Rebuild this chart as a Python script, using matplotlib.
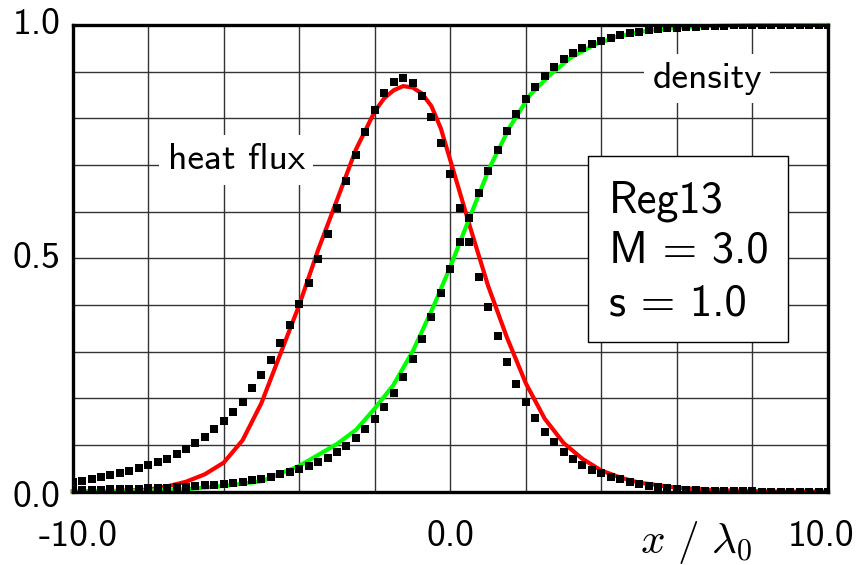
import numpy as np
import matplotlib
matplotlib.use("Agg")
import matplotlib.pyplot as plt
from matplotlib.patches import Rectangle

plt.rcParams['axes.unicode_minus'] = False
plt.rcParams['mathtext.fontset'] = 'cm'

# ---- data ----
x_dots = np.arange(-10.0, 10.001, 0.25)

heat_flux_dots = [
    0.021, 0.023, 0.027, 0.032, 0.035, 0.039, 0.045, 0.050, 0.057, 0.064,
    0.070, 0.080, 0.091, 0.103, 0.117, 0.133, 0.151, 0.171, 0.193, 0.221,
    0.249, 0.282, 0.318, 0.357, 0.401, 0.446, 0.498, 0.552, 0.608, 0.666,
    0.721, 0.771, 0.818, 0.855, 0.877, 0.886, 0.875, 0.848, 0.803, 0.746,
    0.680, 0.607, 0.534, 0.460, 0.395, 0.333, 0.278, 0.230, 0.191, 0.157,
    0.128, 0.107, 0.085, 0.069, 0.057, 0.046, 0.039, 0.032, 0.026, 0.021,
    0.016, 0.012, 0.009, 0.007, 0.005, 0.004, 0.003, 0.002, 0.002, 0.001,
    0.001, 0.001, 0.001, 0.0, 0.0, 0.0, 0.0, 0.0, 0.0, 0.0, 0.0]

density_dots = [
    0.003, 0.003, 0.004, 0.004, 0.005, 0.005, 0.006, 0.006, 0.007, 0.008,
    0.008, 0.009, 0.010, 0.011, 0.013, 0.014, 0.016, 0.018, 0.021, 0.024,
    0.027, 0.032, 0.037, 0.042, 0.048, 0.055, 0.063, 0.072, 0.084, 0.098,
    0.114, 0.133, 0.155, 0.182, 0.212, 0.246, 0.285, 0.328, 0.375, 0.426,
    0.478, 0.534, 0.586, 0.639, 0.688, 0.733, 0.773, 0.809, 0.841, 0.868,
    0.891, 0.909, 0.926, 0.939, 0.950, 0.959, 0.966, 0.972, 0.979, 0.982,
    0.986, 0.989, 0.991, 0.993, 0.994, 0.995, 0.996, 0.997, 0.998, 0.998,
    0.999, 0.999, 0.999, 1.0, 1.0, 1.0, 1.0, 1.0, 1.0, 1.0, 1.0]

heat_flux_x = [-10.0, -9.0, -8.0, -7.5, -7.0, -6.5, -6.0, -5.5, -5.0, -4.5,
               -4.0, -3.5, -3.0, -2.5, -2.0, -1.75, -1.5, -1.25, -1.0, -0.75,
               -0.5, -0.25, 0.0, 0.5, 1.0, 1.5, 2.0, 2.5, 3.0, 3.5,
               4.0, 4.5, 5.0, 6.0, 7.0, 8.0, 9.0, 10.0]
heat_flux_y = [0.0, 0.001, 0.004, 0.011, 0.021, 0.037, 0.062, 0.110, 0.190, 0.295,
               0.400, 0.518, 0.625, 0.733, 0.815, 0.843, 0.860, 0.869, 0.866, 0.853,
               0.826, 0.778, 0.710, 0.573, 0.441, 0.330, 0.232, 0.156, 0.104, 0.070,
               0.045, 0.030, 0.019, 0.008, 0.003, 0.001, 0.0, 0.0]

density_x = [-10.0, -8.0, -7.0, -6.0, -5.0, -4.0, -3.0, -2.5, -2.0, -1.51,
             -0.98, -0.45, 0.0, 0.52, 1.05, 1.58, 2.11, 2.64, 3.17, 3.79,
             4.41, 5.07, 6.0, 7.0, 8.0, 10.0]
density_y = [0.0, 0.002, 0.005, 0.012, 0.022, 0.055, 0.102, 0.132, 0.178, 0.228,
             0.303, 0.396, 0.482, 0.589, 0.696, 0.782, 0.850, 0.893, 0.929, 0.957,
             0.975, 0.986, 0.994, 0.998, 0.9995, 1.0]

x_tick_values = [-10.0, 0.0, 10.0]
x_tick_labels = ['-10.0', '0.0', '10.0']
y_tick_values = [0.0, 0.5, 1.0]
y_tick_labels = ['0.0', '0.5', '1.0']

FONT = 'cmss10'
PX = 0.72  # points per pixel at dpi 100

fig = plt.figure(figsize=(8.58, 5.65), dpi=100)
ax = fig.add_axes([0.0847, 0.130, 0.8803, 0.8258])

ax.plot(heat_flux_x, heat_flux_y, color='#ff0000', lw=3.0, zorder=3, clip_on=False)
ax.plot(density_x, density_y, color='#00ff00', lw=3.0, zorder=3, clip_on=False)
ax.plot(x_dots, heat_flux_dots, 's', color='black', ms=5.5, mew=0, zorder=4)
ax.plot(x_dots, density_dots, 's', color='black', ms=5.5, mew=0, zorder=4)

ax.set_xlim(-10, 10)
ax.set_ylim(0, 1)

ax.set_xticks(np.arange(-10, 10.001, 2))
ax.set_yticks(np.arange(0, 1.0001, 0.1))
ax.set_xticklabels([])
ax.set_yticklabels([])
ax.tick_params(axis='both', length=0)
ax.grid(True, color='#333333', lw=1.0, zorder=1)
ax.set_axisbelow(True)
for s in ax.spines.values():
    s.set_linewidth(2.4)
    s.set_zorder(5)

# tick labels placed as text (with the small shifts seen in the reference)
x_shift_px = [5, 0, -7]
for v, lab, dx in zip(x_tick_values, x_tick_labels, x_shift_px):
    ax.annotate(lab, xy=(v, 0), xycoords=('data', 'axes fraction'),
                xytext=(dx * PX, -28 * PX), textcoords='offset points',
                ha='center', va='top', fontfamily=FONT, fontsize=27,
                annotation_clip=False)
y_shift_px = [-6, 0, 0]
for v, lab, dy in zip(y_tick_values, y_tick_labels, y_shift_px):
    ax.annotate(lab, xy=(0, v), xycoords=('axes fraction', 'data'),
                xytext=(-12.5 * PX, dy * PX), textcoords='offset points',
                ha='right', va='center', fontfamily=FONT, fontsize=27,
                annotation_clip=False)

bb = dict(boxstyle='square,pad=0.22', fc='white', ec='none')
ax.text(-5.67, 0.711, 'heat flux', fontfamily=FONT, fontsize=27,
        ha='center', va='center', bbox=bb, zorder=2)
ax.text(6.80, 0.885, 'density', fontfamily=FONT, fontsize=27,
        ha='center', va='center', bbox=bb, zorder=2)

ax.add_patch(Rectangle((3.65, 0.320), 5.30, 0.399, fc='white', ec='black',
                       lw=1.0, zorder=2))
for txt, yb in [('Reg13', 0.599), ('M = 3.0', 0.490), ('s = 1.0', 0.378)]:
    ax.text(4.21, yb, txt, fontfamily=FONT, fontsize=32, ha='left',
            va='baseline', zorder=3)

fig.text(696 / 858, 1 - 543 / 565, r'$x\ /\ \lambda_0$', fontsize=31,
         ha='center', va='center')

fig.savefig('out.png', dpi=100)
